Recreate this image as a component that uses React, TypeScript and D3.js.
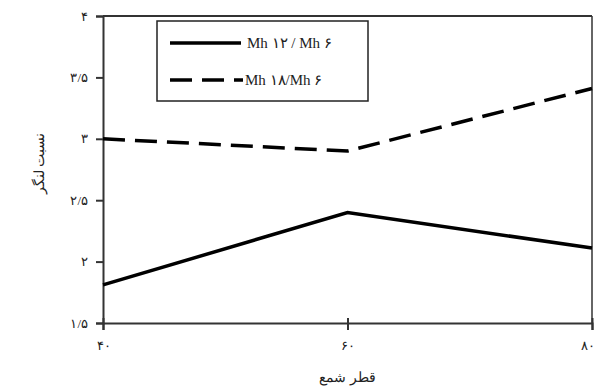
import React, { useEffect, useRef } from 'react';
import * as d3 from 'd3';

const xValues = [40, 60, 80];
const xTickLabels = ['۴۰', '۶۰', '۸۰'];
const yTicks = [1.5, 2, 2.5, 3, 3.5, 4];
const yTickLabels = ['۱/۵', '۲', '۲/۵', '۳', '۳/۵', '۴'];
const ratio12 = [1.81, 2.4, 2.11];
const ratio18 = [3.0, 2.9, 3.41];
const seriesNames = ['Mh ۱۲ / Mh ۶', 'Mh ۱۸/Mh ۶'];
const xTitle = 'قطر شمع';
const yTitle = 'نسبت لنگر';

const App = () => {
  const svgRef = useRef<SVGSVGElement>(null);

  useEffect(() => {
    const svg = d3.select(svgRef.current);
    svg.selectAll('*').remove();
    const margin = { top: 16, right: 3, bottom: 66, left: 103 };
    const width = 595 - margin.left - margin.right;
    const height = 389 - margin.top - margin.bottom;
    const font = '"Liberation Serif", "DejaVu Serif", serif';
    const ink = '#333';

    const x = d3.scaleLinear().domain([40, 80]).range([0, width]);
    const y = d3.scaleLinear().domain([1.5, 4]).range([height, 0]);

    const g = svg.append('g').attr('transform', `translate(${margin.left},${margin.top})`);

    // frame (top and right)
    g.append('line').attr('x1', 0).attr('x2', width).attr('y1', 0).attr('y2', 0)
      .attr('stroke', ink).attr('stroke-width', 2);
    g.append('line').attr('x1', width).attr('x2', width).attr('y1', 0).attr('y2', height)
      .attr('stroke', ink).attr('stroke-width', 1.5);

    const yAxis = d3.axisLeft(y).tickValues(yTicks).tickSize(7).tickPadding(8)
      .tickFormat((_, i) => yTickLabels[i]);
    const ya = g.append('g').call(yAxis);
    ya.select('.domain').attr('stroke', ink).attr('stroke-width', 2);
    ya.selectAll('.tick line').attr('stroke', ink).attr('stroke-width', 2);
    ya.selectAll('.tick text').attr('font-family', font).attr('font-size', 13).attr('fill', '#222');

    const xAxis = d3.axisBottom(x).tickValues(xValues).tickSize(7).tickPadding(11)
      .tickFormat((_, i) => xTickLabels[i]);
    const xa = g.append('g').attr('transform', `translate(0,${height})`).call(xAxis);
    xa.select('.domain').attr('stroke', ink).attr('stroke-width', 2);
    xa.selectAll('.tick line').attr('stroke', ink).attr('stroke-width', 2).attr('y1', -5);
    xa.selectAll('.tick text').attr('font-family', font).attr('font-size', 13).attr('fill', '#222')
      .attr('text-anchor', (_, i) => (i === xValues.length - 1 ? 'end' : 'middle'))
      .attr('dx', (_, i) => (i === xValues.length - 1 ? 2 : 0));

    const line = d3.line<number>().x((_, i) => x(xValues[i])).y((d) => y(d));

    g.append('path').datum(ratio12).attr('d', line).attr('fill', 'none')
      .attr('stroke', '#000').attr('stroke-width', 3.5);
    g.append('path').datum(ratio18).attr('d', line).attr('fill', 'none')
      .attr('stroke', '#000').attr('stroke-width', 3.5).attr('stroke-dasharray', '22,10');

    // legend
    const lg = svg.append('g').attr('transform', 'translate(157,21)');
    lg.append('rect').attr('width', 211).attr('height', 80).attr('fill', '#fff')
      .attr('stroke', '#222').attr('stroke-width', 1.5);
    [0, 1].forEach((i) => {
      const ly = 22 + i * 37;
      lg.append('line').attr('x1', 13).attr('x2', i === 0 ? 84 : 86).attr('y1', ly).attr('y2', ly)
        .attr('stroke', '#000').attr('stroke-width', 3.5)
        .attr('stroke-dasharray', i === 0 ? null : '22,10');
      lg.append('text').attr('x', i === 0 ? 90 : 88).attr('y', ly).attr('dy', '0.35em')
        .attr('font-family', font).attr('font-size', 15).attr('fill', '#222')
        .attr('direction', 'ltr').text(seriesNames[i]);
    });

    svg.append('text').attr('x', margin.left + width / 2).attr('y', 382)
      .attr('text-anchor', 'middle').attr('font-family', font).attr('font-size', 14)
      .attr('fill', '#222').text(xTitle);
    svg.append('text').attr('transform', `translate(44,${margin.top + height / 2 - 6}) rotate(-90)`)
      .attr('text-anchor', 'middle').attr('font-family', font).attr('font-size', 14)
      .attr('fill', '#222').text(yTitle);
  }, []);

  return (
    <svg ref={svgRef} width={595} height={389}
      style={{ position: 'absolute', left: 0, top: 0, background: '#fff' }} />
  );
};

export default App;
